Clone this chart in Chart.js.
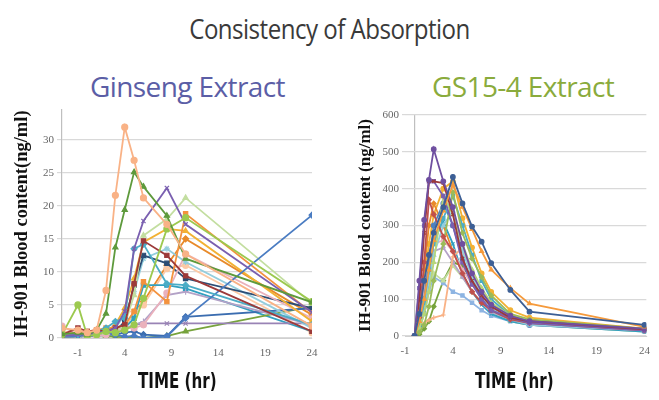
<!DOCTYPE html>
<html>
<head>
<meta charset="utf-8">
<script src="https://cdn.jsdelivr.net/npm/chart.js@4.4.0/dist/chart.umd.min.js"></script>
<style>
  html, body { margin: 0; padding: 0; background: #fff; }
  #wrap { position: relative; width: 659px; height: 400px; overflow: hidden; }
  .t { position: absolute; white-space: nowrap; font-family: 'Open Sans', sans-serif; }
  #title { left: 0; width: 659px; top: 9px; text-align: center; font-size: 28px; color: #3a3a3a; letter-spacing: -0.6px;
           transform: scaleX(0.86); transform-origin: center top; }
  #sub1 { left: 90px; top: 67px; font-size: 28px; color: #5b5ea6; letter-spacing: -0.6px; }
  #sub2 { left: 432px; top: 67px; font-size: 28px; color: #8aab3c; letter-spacing: -0.6px; }
  .xt { font-family: 'DejaVu Sans Condensed', sans-serif; font-weight: bold; font-size: 21px; color: #111;
        transform: scaleX(0.8); transform-origin: left top; }
  canvas { position: absolute; }
</style>
</head>
<body>
<div id="wrap">
  <div class="t" id="title">Consistency of Absorption</div>
  <div class="t" id="sub1">Ginseng Extract</div>
  <div class="t" id="sub2">GS15-4 Extract</div>
  <canvas id="ginseng" width="330" height="310" style="left:0;top:90px"></canvas>
  <canvas id="gs15" width="329" height="310" style="left:330px;top:90px"></canvas>
  <div class="t xt" id="xt1" style="left:138px;top:369px">TIME (hr)</div>
  <div class="t xt" id="xt2" style="left:475px;top:369px">TIME (hr)</div>
</div>
<script>
// sampling times (hr)
const ginsengTime = [-2.7, -1, 0, 1, 2, 3, 4, 5, 6, 8.5, 10.5, 24];
const gs15Time = [0, 0.5, 1, 1.5, 2, 3, 4, 5, 6, 7, 8, 10, 12, 24];

const xTicks = [-1, 4, 9, 14, 19, 24];
const ginsengYTicks = [0, 5, 10, 15, 20, 25, 30];
const gs15YTicks = [0, 100, 200, 300, 400, 500, 600];

// IH-901 blood content (ng/ml), one row per subject
const ginsengSubjects = [
  [1.5, 1.2, 0.8, 1.2, 7.2, 21.6, 31.9, 26.9, 21.2, 17.2, 12.7, 1.8],
  [0.6, 0.8, 0.5, 1.2, 3.7, 13.7, 19.4, 25.1, 22.9, 18.5, 12.0, 5.4],
  [0.5, 5.0, 0.3, 0.5, 1.0, 0.8, 1.2, 2.0, 6.0, 16.5, 18.2, 5.5],
  [0.3, 0.5, 0.5, 0.8, 1.0, 1.5, 4.0, 13.5, 17.7, 22.7, 17.2, 3.9],
  [0.5, 1.5, 1.0, 1.2, 1.0, 1.5, 2.0, 8.2, 14.7, 12.5, 9.4, 1.0],
  [0.3, 0.5, 0.8, 1.0, 1.5, 2.5, 3.0, 13.5, 14.2, 8.2, 8.0, 2.0],
  [0.2, 0.3, 0.5, 0.8, 1.0, 0.5, 0.2, 0.3, 0.0, 0.2, 3.0, 18.6],
  [0.2, 0.3, 0.5, 0.5, 0.8, 1.0, 2.0, 6.5, 15.5, 18.0, 21.2, 5.2],
  [0.5, 0.8, 1.0, 1.2, 1.5, 1.5, 2.0, 4.0, 8.5, 5.5, 18.8, 3.8],
  [0.3, 0.5, 0.6, 0.8, 1.0, 2.0, 4.5, 9.0, 14.5, 16.5, 16.2, 2.5],
  [1.8, 0.5, 0.5, 0.3, 0.5, 1.0, 1.5, 1.5, 2.0, 6.8, 12.7, 3.0],
  [0.3, 0.3, 0.5, 1.0, 1.0, 1.2, 1.5, 2.0, 2.5, 6.5, 7.0, 2.0],
  [0.2, 0.3, 0.5, 0.5, 0.8, 1.0, 2.5, 8.0, 12.5, 11.3, 9.0, 4.5],
  [0.3, 0.5, 0.5, 1.0, 1.0, 1.5, 3.5, 7.0, 12.0, 13.5, 11.5, 1.5],
  [0.3, 0.3, 0.3, 0.5, 0.5, 0.8, 1.2, 2.0, 2.2, 2.2, 2.2, 2.2],
  [0.2, 0.2, 0.3, 0.3, 0.5, 0.5, 0.8, 1.0, 0.5, 0.3, 3.2, 4.5],
  [0.2, 0.3, 0.5, 0.5, 0.3, 0.2, 0.1, 0.0, 0.0, 0.3, 1.0, 4.8],
  [0.5, 0.3, 0.5, 0.8, 1.0, 1.0, 1.5, 3.0, 8.0, 8.0, 7.5, 1.0],
  [1.0, 0.8, 0.5, 0.5, 0.5, 0.8, 1.5, 4.0, 5.0, 10.5, 11.0, 0.8],
  [0.3, 0.3, 0.5, 0.5, 0.8, 1.0, 1.5, 4.0, 5.5, 11.0, 15.0, 3.5]
];

const gs15Subjects = [
  [0, 60, 150, 220, 280, 350, 432, 360, 297, 256, 198, 125, 66, 30],
  [0, 40, 100, 180, 260, 340, 410, 350, 290, 230, 180, 130, 88, 25],
  [0, 150, 315, 424, 507, 420, 350, 250, 170, 120, 85, 55, 40, 20],
  [0, 100, 280, 420, 420, 415, 330, 210, 150, 110, 80, 50, 40, 18],
  [0, 130, 300, 420, 420, 380, 300, 200, 140, 100, 70, 50, 35, 15],
  [0, 50, 200, 370, 330, 270, 230, 170, 120, 90, 70, 45, 35, 15],
  [0, 10, 30, 80, 150, 250, 390, 280, 210, 160, 110, 60, 45, 20],
  [0, 20, 60, 120, 200, 380, 330, 250, 180, 130, 90, 55, 40, 18],
  [0, 30, 90, 180, 250, 320, 380, 300, 220, 150, 100, 55, 40, 18],
  [0, 20, 80, 150, 220, 300, 340, 230, 160, 110, 75, 45, 30, 15],
  [0, 30, 100, 200, 300, 360, 300, 210, 150, 100, 70, 45, 30, 15],
  [0, 20, 35, 43, 50, 57, 215, 240, 170, 120, 90, 55, 40, 15],
  [0, 40, 120, 200, 250, 260, 230, 180, 140, 110, 85, 55, 40, 18],
  [0, 30, 100, 180, 230, 240, 200, 160, 120, 90, 65, 45, 30, 15],
  [0, 20, 70, 150, 260, 310, 250, 170, 120, 85, 60, 40, 30, 12],
  [0, 60, 180, 300, 360, 300, 230, 170, 120, 90, 70, 45, 35, 18],
  [0, 30, 80, 140, 170, 150, 190, 160, 120, 90, 65, 40, 30, 12],
  [0, 20, 60, 120, 160, 144, 120, 110, 90, 70, 55, 40, 30, 12],
  [0, 40, 150, 250, 330, 400, 420, 320, 240, 170, 120, 70, 50, 20],
  [0, 5, 20, 40, 80, 150, 200, 190, 150, 110, 80, 50, 35, 15]
];

const ginsengColors = ['#f9b286', '#5e9a3c', '#9cc94f', '#7a5fb0', '#9c3a3a', '#4bacc6', '#4a7cc2', '#c3dea0',
  '#f3923e', '#f2b134', '#eab1bc', '#b3a2c7', '#2c4d75', '#93cddd', '#9983b5', '#3b6db0',
  '#77a33c', '#31a0c0', '#fcc9a5', '#e88a2a'];
const gs15Colors = ['#3d5f95', '#f59a3c', '#6f4fa0', '#9c3a3a', '#7a5fb0', '#c0504d', '#9bbb59', '#b7d67a',
  '#4bacc6', '#93cddd', '#4f81bd', '#f9b286', '#eab1bc', '#b3a2c7', '#31a0c0', '#e88a2a',
  '#c3dea0', '#8db4e2', '#f2b134', '#77a33c'];
const markers = ['circle', 'triangle', 'circle', 'crossRot', 'rect', 'rectRot', 'rectRot', 'triangle', 'rect', 'triangle',
  'circle', 'cross', 'rect', 'star', 'crossRot', 'rectRot', 'triangle', 'rect', 'circle', 'rectRot'];

function buildSets(times, subjects, colors, radius) {
  return subjects.map((vals, i) => ({
    data: vals.map((v, j) => ({ x: times[j], y: v })),
    borderColor: colors[i],
    backgroundColor: colors[i],
    pointStyle: markers[i],
    pointRadius: radius,
    pointBorderWidth: 1.2,
    borderWidth: 1.8,
    tension: 0
  }));
}

const tickFont = { family: 'Liberation Serif', size: 11 };

function makeChart(id, times, subjects, colors, opt) {
  return new Chart(document.getElementById(id), {
    type: 'line',
    data: { datasets: buildSets(times, subjects, colors, opt.radius) },
    options: {
      responsive: false,
      animation: false,
      layout: { padding: opt.padding },
      plugins: { legend: { display: false }, tooltip: { enabled: false } },
      scales: {
        x: {
          type: 'linear',
          min: opt.xMin,
          max: opt.xMax,
          afterBuildTicks: ax => { ax.ticks = opt.xTickValues.map(v => ({ value: v })); },
          afterFit: ax => { ax.height = opt.xHeight; },
          grid: {
            drawTicks: false,
            color: c => (opt.zeroLine && c.tick && c.tick.value === 0) ? '#bfbfbf' : 'rgba(0,0,0,0)',
            lineWidth: 1.2
          },
          border: { display: true, color: '#d0d0d0' },
          ticks: {
            font: tickFont, color: '#666', padding: 9, maxRotation: 0, autoSkip: false,
            callback: v => (opt.zeroLine && v === 0) ? '' : v
          }
        },
        y: {
          min: 0,
          max: opt.yMax,
          afterBuildTicks: ax => { ax.ticks = opt.yTickValues.map(v => ({ value: v })); },
          afterFit: ax => { ax.width = opt.yWidth; },
          grid: { color: '#d9d9d9', tickLength: opt.tickLength, lineWidth: 1.2 },
          border: { display: !opt.zeroLine, color: '#bfbfbf', width: 1.2 },
          title: {
            display: true, text: opt.yTitle, color: '#111',
            font: { family: 'Liberation Serif', size: opt.titleSize, weight: 'bold' },
            padding: { top: opt.titlePad, bottom: 0 }
          },
          ticks: { font: tickFont, color: '#666', padding: 3 }
        }
      }
    }
  });
}

makeChart('ginseng', ginsengTime, ginsengSubjects, ginsengColors, {
  padding: { top: 20, right: 18, left: 0, bottom: 0 },
  xMin: -2.7, xMax: 24, xTickValues: xTicks, xHeight: 62,
  yMax: 34.5, yTickValues: ginsengYTicks, yWidth: 62, tickLength: 5,
  yTitle: 'IH-901 Blood content(ng/ml)', titleSize: 18.5, titlePad: 11, zeroLine: false, radius: 3
});

makeChart('gs15', gs15Time, gs15Subjects, gs15Colors, {
  padding: { top: 25, right: 9, left: 0, bottom: 0 },
  xMin: -1, xMax: 24.2, xTickValues: [-1, 0, 4, 9, 14, 19, 24], xHeight: 64,
  yMax: 600, yTickValues: gs15YTicks, yWidth: 75, tickLength: 3,
  yTitle: 'IH-901 Blood content (ng/ml)', titleSize: 17, titlePad: 25, zeroLine: true, radius: 2.3
});
</script>
</body>
</html>
